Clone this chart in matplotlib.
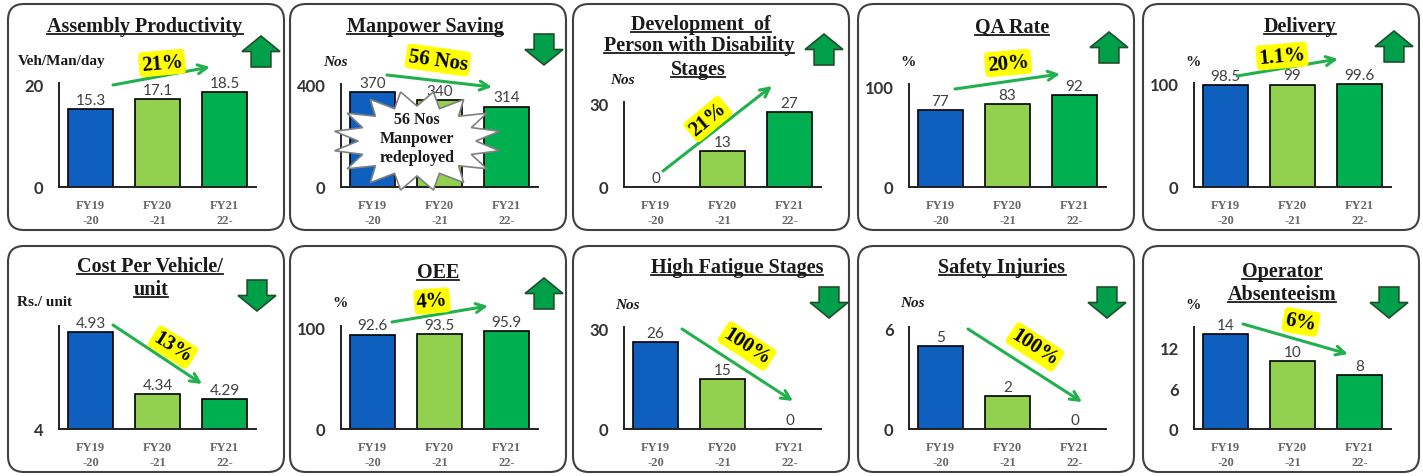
import numpy as np
import matplotlib.pyplot as plt
from matplotlib.patches import FancyBboxPatch, Polygon
from matplotlib.lines import Line2D

W, H = 1423, 477

# ---------------- data ----------------
years = ["FY19\n-20", "FY20\n-21", "FY21\n22-"]

productivity = [15.3, 17.1, 18.5]
manpower = [370, 340, 314]
pwd_stages = [0, 13, 27]
qa_rate = [77, 83, 92]
delivery = [98.5, 99, 99.6]
cost_per_vehicle = [4.93, 4.34, 4.29]
oee = [92.6, 93.5, 95.9]
fatigue_stages = [26, 15, 0]
safety_injuries = [5, 2, 0]
absenteeism = [14, 10, 8]

titles = [["Assembly Productivity"], ["Manpower Saving"],
          ["Development  of", "Person with Disability", "Stages"],
          ["QA Rate"], ["Delivery"],
          ["Cost Per Vehicle/", "unit"], ["OEE"], ["High Fatigue Stages"],
          ["Safety Injuries"], ["Operator", "Absenteeism"]]
units = ["Veh/Man/day", "Nos", "Nos", "%", "%", "Rs./ unit", "%", "Nos", "Nos", "%"]
series = [productivity, manpower, pwd_stages, qa_rate, delivery,
          cost_per_vehicle, oee, fatigue_stages, safety_injuries, absenteeism]
yticks = [[0, 20], [0, 400], [0, 30], [0, 100], [0, 100],
          [4], [0, 100], [0, 30], [0, 6], [0, 6, 12]]
ylims = [(0, 20.3), (0, 402), (0, 30.5), (0, 103), (0, 100.5),
         (4, 4.99), (0, 101), (0, 30.6), (0, 6.12), (0, 15)]
changes = ["21%", "56 Nos", "21%", "20%", "1.1%", "13%", "4%", "100%", "100%", "6%"]
goal = ["up", "down", "up", "up", "up", "down", "up", "down", "down", "down"]

# ---------------- layout (pixels, local to each box) ----------------
col_x = [8, 290, 573, 858, 1143]
row_y = [5, 247]
box_w, box_h = 276, 226
ax_h = [104, 103, 85, 103, 104, 103, 103, 102, 102, 102]
title_pos = [[(137, 27)], [(135, 27)], [(128, 25), (126, 46), (125, 70)],
             [(154, 28)], [(157, 27)], [(142, 25), (143, 48)], [(148, 31)],
             [(164, 26)], [(144, 26)], [(139, 30), (139, 53)]]
unit_pos = [(10, 57), (33, 57), (37, 75), (42, 58), (42, 57),
            (9, 56), (42, 57), (42, 59), (42, 57), (42, 59)]
goal_box = [(234, 32), (235, 30), (232, 30), (232, 28), (232, 27),
            (230, 34), (235, 32), (237, 41), (230, 41), (227, 41)]
trend = [((105, 81), (202, 63)), ((97, 71), (202, 83)), ((90, 167), (199, 82)),
         ((97, 85), (202, 70)), ((94, 72), (195, 55)), ((105, 79), (194, 138)),
         ((102, 76), (198, 60)), ((109, 83), (220, 155)), ((110, 83), (224, 156)),
         ((100, 78), (205, 108))]
change_pos = [(154, 59, 5), (148, 56, -8), (135, 115, 40), (150, 59, 5), (139, 52, 5),
              (165, 101, -32), (142, 55, 5), (174, 100, -33), (177, 101, -33), (158, 76, -10)]

bar_colors = ["#0E5FBE", "#92D050", "#00B050"]
serif = "Liberation Serif"

plt.rcParams['font.family'] = 'Lato'
fig = plt.figure(figsize=(W / 100, H / 100), dpi=100)

bg = fig.add_axes([0, 0, 1, 1], zorder=0)
ov = fig.add_axes([0, 0, 1, 1], zorder=10)
for a in (bg, ov):
    a.set_xlim(0, W)
    a.set_ylim(H, 0)
    a.axis('off')
ov.patch.set_alpha(0)

title_texts = []

for i in range(10):
    r, c = divmod(i, 5)
    bx, by = col_x[c], row_y[r]

    # rounded box
    bg.add_patch(FancyBboxPatch((bx, by), box_w, box_h,
                                boxstyle="round,pad=0,rounding_size=16",
                                fc="white", ec="#404040", lw=1.5))

    # bar axes
    h = ax_h[i]
    ax = fig.add_axes([(bx + 51) / W, 1 - (by + 183) / H, 197 / W, h / H], zorder=1)
    ax.patch.set_alpha(0)
    x = np.arange(3)
    ax.bar(x, series[i], width=0.67, color=bar_colors, edgecolor="black", linewidth=1.2)
    ax.set_xlim(-0.47, 2.47)
    ax.set_ylim(*ylims[i])
    ax.set_yticks(yticks[i])
    ax.set_xticks(x)
    ax.set_xticklabels(years, family=serif, fontweight="bold", fontsize=9,
                       color="#666666", linespacing=1.3)
    ax.tick_params(axis="y", length=0, pad=11, labelsize=12, labelcolor="#333333")
    for lab in ax.get_yticklabels():
        lab.set_fontweight("bold")
    ax.tick_params(axis="x", length=0, pad=9)
    for s in ("top", "right"):
        ax.spines[s].set_visible(False)
    for s in ("left", "bottom"):
        ax.spines[s].set_linewidth(1.4)
        ax.spines[s].set_color("#222222")
    for xi, v in zip(x, series[i]):
        ax.annotate(f"{v:g}", (xi, v), xytext=(0, 1.5), textcoords="offset points",
                    ha="center", va="bottom", fontsize=11, color="#404040",
                    annotation_clip=False)

    # titles
    for line, (tx, ty) in zip(titles[i], title_pos[i]):
        t = ov.text(bx + tx, by + ty, line, ha="center", va="baseline",
                    family=serif, fontweight="bold", fontsize=14.5, color="#1a1a1a")
        title_texts.append((t, by + ty))

    # unit label
    ux, uy = unit_pos[i]
    ov.text(bx + ux, by + uy, units[i], ha="left", va="center", family=serif,
            fontweight="bold", fontsize=11,
            style="italic" if units[i] == "Nos" else "normal", color="#1a1a1a")

    # block arrow showing desired direction
    gx, gy = goal_box[i]
    gx, gy = bx + gx, by + gy
    aw, ah = 38, 31
    cx = gx + aw / 2
    sw, hh = 0.52 * aw, 0.5 * ah
    if goal[i] == "up":
        pts = [(cx, gy), (gx + aw, gy + hh), (cx + sw / 2, gy + hh), (cx + sw / 2, gy + ah),
               (cx - sw / 2, gy + ah), (cx - sw / 2, gy + hh), (gx, gy + hh)]
    else:
        pts = [(cx, gy + ah), (gx + aw, gy + ah - hh), (cx + sw / 2, gy + ah - hh),
               (cx + sw / 2, gy), (cx - sw / 2, gy), (cx - sw / 2, gy + ah - hh),
               (gx, gy + ah - hh)]
    ov.add_patch(Polygon(pts, closed=True, fc="#00A04A", ec="#1F4F2A", lw=1.2))

    # trend arrow + change label
    (x0, y0), (x1, y1) = trend[i]
    ov.annotate("", xy=(bx + x1, by + y1), xytext=(bx + x0, by + y0),
                arrowprops=dict(arrowstyle="->", color="#22B04E", lw=2.2,
                                mutation_scale=16, shrinkA=0, shrinkB=0))
    cxl, cyl, rot = change_pos[i]
    ov.text(bx + cxl, by + cyl, changes[i], ha="center", va="center", rotation=rot,
            rotation_mode="anchor", family=serif, fontweight="bold", fontsize=15,
            color="black",
            bbox=dict(boxstyle="round,pad=0.12,rounding_size=0.2", fc="#FFFF00", ec="none"))

# star callout on the manpower panel
bx, by = col_x[1], row_y[0]
scx, scy = bx + 127, by + 137
ang = np.linspace(0, 2 * np.pi, 32, endpoint=False) + np.pi / 16
rad = np.where(np.arange(32) % 2 == 0, 1.0, 0.7)
star = np.column_stack([scx + 84 * rad * np.cos(ang), scy + 50 * rad * np.sin(ang)])
ov.add_patch(Polygon(star, closed=True, fc="white", ec="#808080", lw=1.2))
ov.text(scx, scy - 3, "56 Nos\nManpower\nredeployed", ha="center", va="center",
        family=serif, fontweight="bold", fontsize=11.5, linespacing=1.25, color="#1a1a1a")

# underline the titles
fig.canvas.draw()
renderer = fig.canvas.get_renderer()
for t, base in title_texts:
    bb = t.get_window_extent(renderer)
    ov.add_line(Line2D([bb.x0, bb.x1], [base + 2.5, base + 2.5], color="#1a1a1a", lw=1.3))

fig.savefig("out.png", dpi=100)
